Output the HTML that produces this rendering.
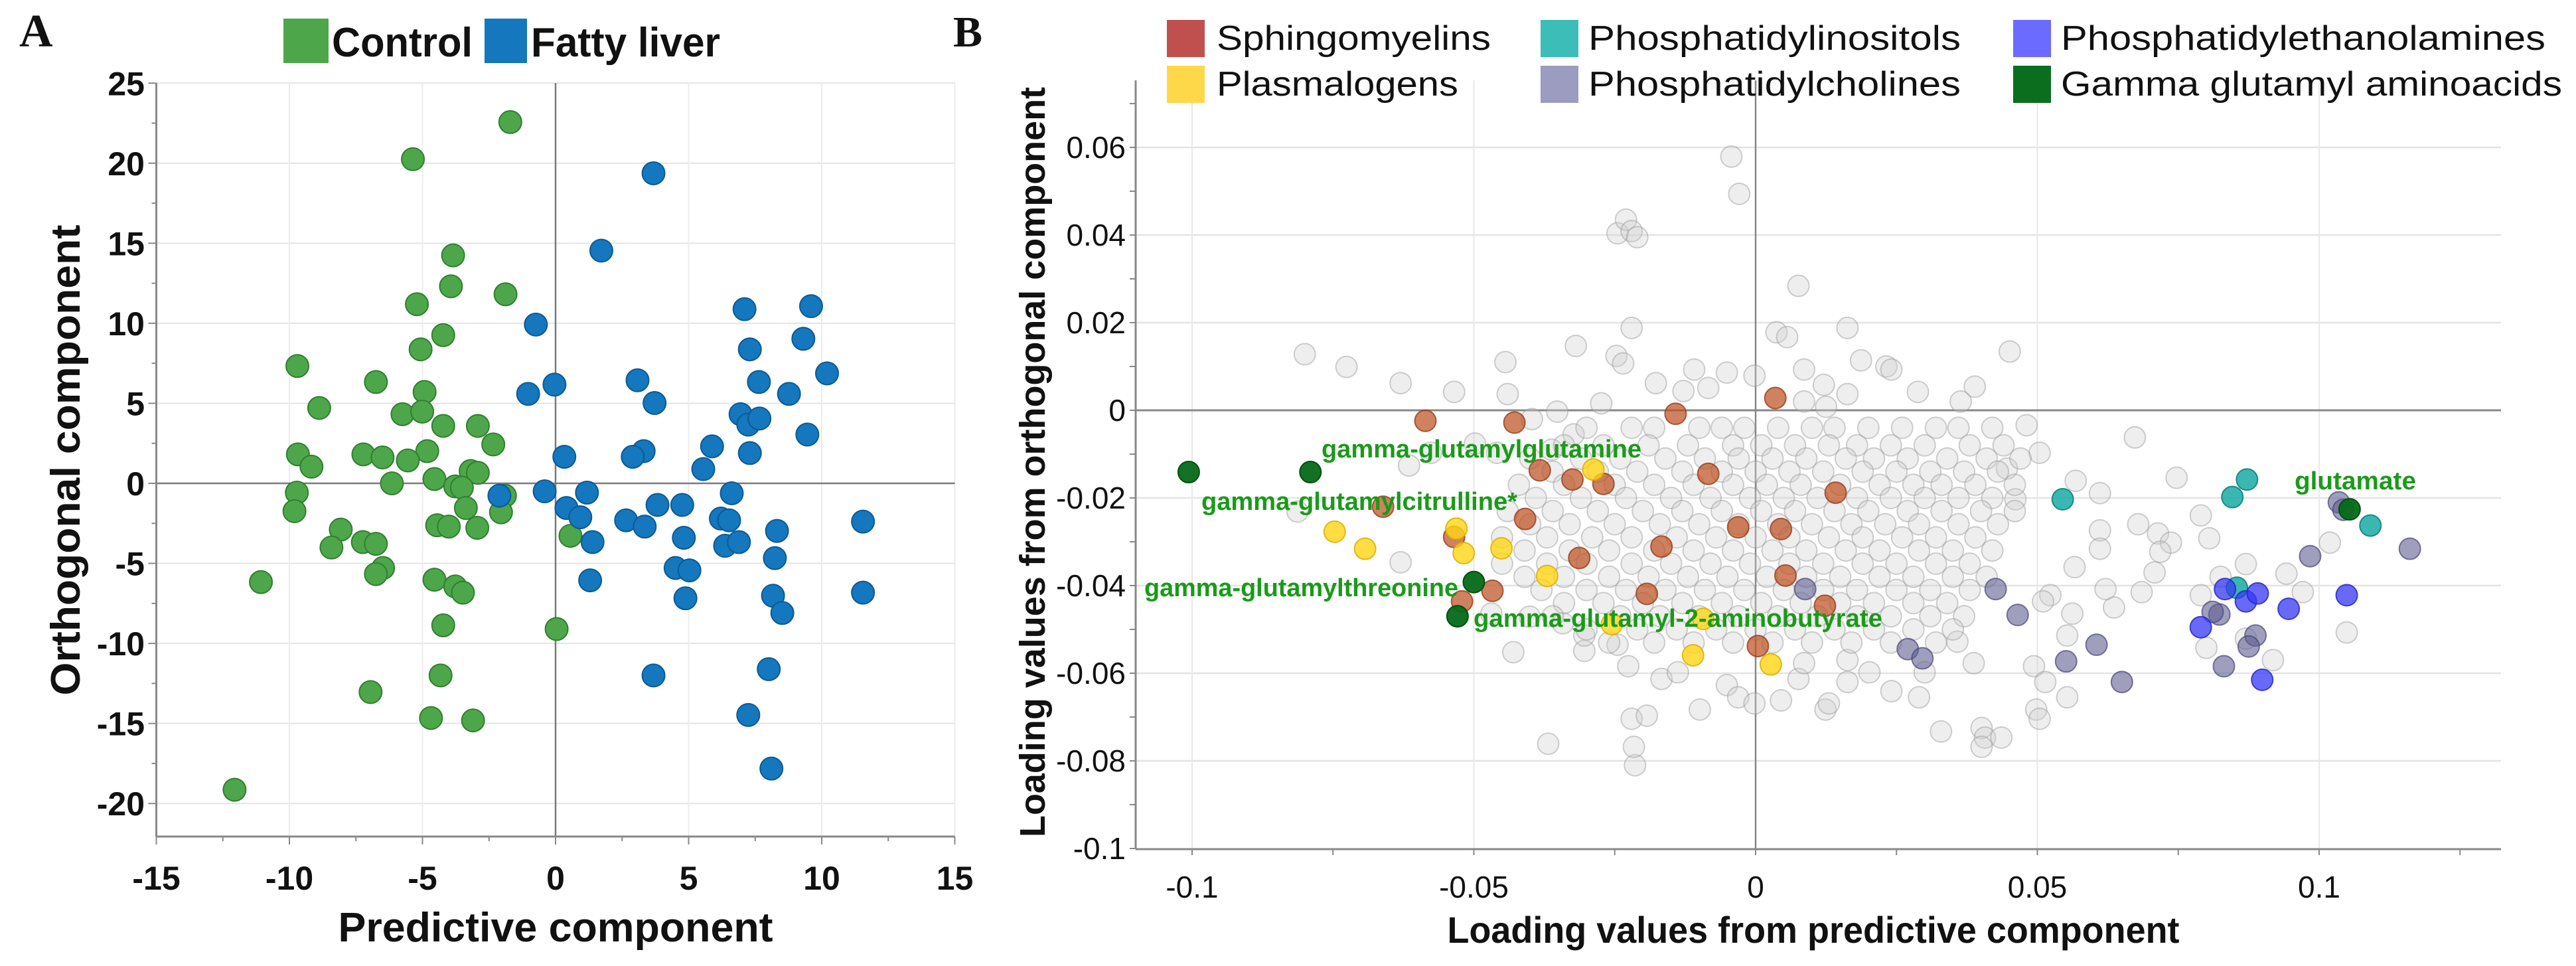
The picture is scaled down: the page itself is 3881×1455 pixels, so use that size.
<!DOCTYPE html>
<html><head><meta charset="utf-8"><style>
html,body{margin:0;padding:0;background:#fff;}
svg{display:block;font-family:"Liberation Sans",sans-serif;}
</style></head><body>
<svg id="fig" width="3881" height="1455" viewBox="0 0 3881 1455" xmlns="http://www.w3.org/2000/svg">
<rect x="0" y="0" width="3881" height="1455" fill="#fff"/>
<g id="panelA"></g>
<g id="panelB"></g>
</svg>
<script>
// ---------- Panel A data ----------
const aXTicks = [-15,-10,-5,0,5,10,15];
const aYTicks = [-20,-15,-10,-5,0,5,10,15,20,25];
const controlX = [-1.70,-5.36,-3.85,-3.93,-1.88,-5.21,-5.07,-4.22,-9.70,-6.75,-8.88,-4.92,-5.75,-5.01,-4.22,-2.92,-2.34,-4.82,-9.68,-9.17,-7.22,-6.50,-5.55,-3.19,-2.92,-6.15,-4.55,-3.77,-3.52,-1.90,-9.72,-9.81,-3.37,-2.05,-8.07,-4.45,-4.01,-2.94,-8.42,-7.24,-6.75,0.56,-6.48,-6.75,-11.07,-4.55,-3.77,-3.48,0.04,-4.22,-4.32,-6.95,-4.68,-3.10,-12.06];
const controlY = [22.57,20.25,14.24,12.31,11.81,11.19,8.37,9.26,7.33,6.33,4.71,5.71,4.32,4.48,3.59,3.59,2.43,2.01,1.81,1.04,1.81,1.62,1.43,0.77,0.66,0,0.27,-0.19,-0.27,-0.77,-0.58,-1.74,-1.54,-1.81,-2.89,-2.62,-2.70,-2.78,-4.01,-3.67,-3.78,-3.28,-5.29,-5.67,-6.17,-6.02,-6.44,-6.83,-9.10,-8.87,-12.00,-13.04,-14.66,-14.81,-19.14];
const fattyX = [3.68,1.72,-0.74,7.10,9.60,9.31,7.30,10.20,3.08,7.64,-1.03,-0.04,3.72,8.77,6.95,7.24,7.66,9.46,5.88,3.31,2.90,0.33,7.30,5.55,-2.11,-0.41,1.18,0.41,0.93,3.83,4.76,6.62,2.65,3.35,6.21,6.52,8.32,11.55,1.39,4.82,6.37,6.89,8.24,4.51,5.03,1.30,4.88,8.17,8.52,11.55,3.68,8.01,7.24,8.11];
const fattyY = [19.37,14.54,9.92,10.88,11.07,9.03,8.37,6.87,6.44,6.33,5.59,6.17,5.02,5.59,4.32,3.67,4.05,3.05,2.31,2.01,1.66,1.66,1.89,0.89,-0.77,-0.50,-0.58,-1.54,-2.12,-1.35,-1.35,-0.62,-2.31,-2.70,-2.20,-2.31,-2.97,-2.39,-3.67,-3.40,-3.90,-3.67,-4.67,-5.29,-5.44,-6.06,-7.18,-7.02,-8.10,-6.83,-12.00,-11.61,-14.47,-17.82];

// ---------- Panel B data ----------
const bXTicks = [-0.1,-0.05,0,0.05,0.1];
const bXTickLabels = ["-0.1","-0.05","0","0.05","0.1"];
const bYTicks = [0.06,0.04,0.02,0,-0.02,-0.04,-0.06,-0.08,-0.1];
const bYTickLabels = ["0.06","0.04","0.02","0","-0.02","-0.04","-0.06","-0.08","-0.1"];
const grayX = [-0.0043,-0.0029,-0.0245,-0.0230,-0.0220,-0.0210,0.0076,-0.0220,0.0037,0.0056,0.0163,-0.0319,-0.0800,-0.0726,-0.0444,-0.0247,-0.0235,-0.0109,-0.0051,-0.0002,0.0086,0.0187,0.0232,0.0241,0.0451,0.0288,0.0389,-0.0630,-0.0535,-0.0440,-0.0177,-0.0128,-0.0084,0.0121,0.0163,0.0364,-0.0274,-0.0352,-0.0397,0.0086,0.0125,
0.0673,0.0481,0.0504,0.0446,0.0568,0.0611,0.0461,0.0747,0.0790,0.0805,0.0611,0.0611,0.0566,0.0679,0.0714,0.0737,0.0718,0.0708,0.0685,0.0636,0.0621,0.0562,0.0523,0.0510,0.0870,0.0825,0.0790,0.0800,0.0918,0.0942,0.0971,0.1019,0.1049,0.0870,0.0553,0.0494,0.0514,0.0553,0.0498,0.0504,0.0401,0.0407,0.0436,0.0329,0.0401,0.0290,0.0241,0.0300,0.0387,0.0358,
-0.0368,-0.0214,-0.0216,-0.0220,-0.0193,-0.0099,-0.0430,-0.0304,-0.0245,-0.0226,-0.0167,-0.0138,-0.0051,-0.0031,-0.0002,0.0045,0.0124,0.0130,0.0076,0.0163,0.0202,0.0163,0.0086,-0.0342,-0.0304,-0.0401,-0.0469,-0.0630,-0.0813,-0.0615,-0.0576,-0.0498,-0.0459,-0.0362,-0.0323];
const grayY = [0.0579,0.0494,0.0404,0.0435,0.0409,0.0395,0.0284,0.0188,0.0178,0.0167,0.0188,0.0147,0.0128,0.0099,0.0110,0.0124,0.0107,0.0093,0.0086,0.0079,0.0093,0.0114,0.0100,0.0093,0.0134,0.0042,0.0054,0.0062,0.0042,0.0037,0.0062,0.0044,0.0051,0.0058,0.0037,0.0020,0.0016,-0.0003,-0.0020,0.0020,0.0008,
-0.0062,-0.0034,-0.0097,-0.0133,-0.0161,-0.0189,-0.0203,-0.0154,-0.0240,-0.0292,-0.0274,-0.0316,-0.0358,-0.0260,-0.0281,-0.0302,-0.0323,-0.0370,-0.0415,-0.0450,-0.0408,-0.0464,-0.0422,-0.0436,-0.0351,-0.0380,-0.0422,-0.0542,-0.0570,-0.0373,-0.0415,-0.0302,-0.0507,-0.0521,-0.0514,-0.0584,-0.0620,-0.0655,-0.0683,-0.0704,-0.0725,-0.0747,-0.0747,-0.0733,-0.0768,-0.0655,-0.0641,-0.0598,-0.0577,-0.0528,
-0.0761,-0.0810,-0.0768,-0.0704,-0.0697,-0.0683,-0.0552,-0.0549,-0.0535,-0.0584,-0.0613,-0.0598,-0.0627,-0.0655,-0.0669,-0.0662,-0.0683,-0.0669,-0.0613,-0.0620,-0.0598,-0.0570,-0.0577,-0.0486,-0.0514,-0.0471,-0.0464,-0.0347,-0.0231,-0.0126,-0.0097,-0.0076,-0.0097,-0.0090,-0.0055];
// dense central cloud, row by row: [y, [x...]]
const grayCloudRows = [
 [-0.004,[-0.030,-0.022,-0.018,-0.010,-0.006,-0.002,0.004,0.010,0.014,0.020,0.026,0.032,0.036,0.042]],
 [-0.008,[-0.034,-0.027,-0.019,-0.012,-0.004,0.001,0.007,0.013,0.018,0.024,0.030,0.038,0.044]],
 [-0.011,[-0.040,-0.031,-0.024,-0.016,-0.009,-0.003,0.003,0.009,0.016,0.021,0.027,0.034,0.041,0.047]],
 [-0.014,[-0.036,-0.028,-0.021,-0.013,-0.006,0.000,0.006,0.012,0.019,0.025,0.031,0.037,0.043]],
 [-0.017,[-0.042,-0.034,-0.025,-0.018,-0.011,-0.004,0.002,0.008,0.015,0.022,0.028,0.033,0.039,0.046]],
 [-0.020,[-0.039,-0.031,-0.023,-0.015,-0.008,-0.001,0.005,0.011,0.018,0.024,0.030,0.036,0.042]],
 [-0.023,[-0.044,-0.036,-0.028,-0.020,-0.013,-0.006,0.001,0.007,0.014,0.020,0.027,0.033,0.040,0.046]],
 [-0.026,[-0.040,-0.033,-0.025,-0.017,-0.010,-0.003,0.004,0.010,0.017,0.023,0.029,0.036,0.043]],
 [-0.029,[-0.045,-0.037,-0.029,-0.022,-0.014,-0.007,0.000,0.006,0.013,0.019,0.026,0.032,0.039]],
 [-0.032,[-0.041,-0.033,-0.026,-0.018,-0.011,-0.004,0.003,0.009,0.016,0.022,0.029,0.035,0.042]],
 [-0.035,[-0.045,-0.037,-0.030,-0.022,-0.015,-0.008,-0.001,0.006,0.012,0.019,0.025,0.032,0.038]],
 [-0.038,[-0.041,-0.034,-0.026,-0.019,-0.012,-0.005,0.002,0.009,0.015,0.022,0.028,0.035,0.041]],
 [-0.041,[-0.038,-0.030,-0.023,-0.016,-0.009,-0.002,0.005,0.012,0.018,0.025,0.031,0.038]],
 [-0.044,[-0.034,-0.027,-0.020,-0.013,-0.006,0.001,0.008,0.015,0.021,0.028,0.034]],
 [-0.047,[-0.036,-0.024,-0.017,-0.010,-0.003,0.004,0.011,0.018,0.024,0.031,0.037]],
 [-0.050,[-0.030,-0.021,-0.014,-0.007,0.000,0.007,0.014,0.021,0.028,0.035]],
 [-0.053,[-0.026,-0.018,-0.011,-0.004,0.003,0.010,0.017,0.024,0.032]]
];
const sphX = [-0.0586,-0.0428,-0.0142,0.0035,-0.0383,-0.0325,-0.0270,-0.0084,0.0142,-0.0661,-0.0409,-0.0031,0.0045,-0.0535,-0.0167,-0.0313,0.0053,-0.0521,-0.0467,-0.0193,0.0123,0.0004];
const sphY = [-0.0024,-0.0028,-0.0008,0.0028,-0.0137,-0.0158,-0.0168,-0.0145,-0.0188,-0.0220,-0.0248,-0.0267,-0.0271,-0.0289,-0.0311,-0.0337,-0.0377,-0.0436,-0.0412,-0.0419,-0.0446,-0.0538];
const plasX = [-0.0288,-0.0747,-0.0693,-0.0531,-0.0518,-0.0451,-0.0370,-0.0255,-0.0093,-0.0111,0.0027];
const plasY = [-0.0135,-0.0277,-0.0316,-0.0270,-0.0326,-0.0315,-0.0378,-0.0488,-0.0476,-0.0559,-0.0580];
const piX = [0.0545,0.0872,0.0846,0.1091,0.0854];
const piY = [-0.0203,-0.0158,-0.0198,-0.0263,-0.0405];
const pcX = [0.0088,0.0426,0.0465,0.0270,0.0296,0.0551,0.0605,0.0650,0.0823,0.0831,0.0887,0.0875,0.0984,0.1035,0.1043,0.1161,0.0811];
const pcY = [-0.0408,-0.0408,-0.0467,-0.0545,-0.0566,-0.0573,-0.0535,-0.0620,-0.0466,-0.0584,-0.0514,-0.0539,-0.0333,-0.0210,-0.0227,-0.0316,-0.0460];
const peX = [0.0833,0.0870,0.0891,0.0946,0.0790,0.0899,0.1049];
const peY = [-0.0408,-0.0436,-0.0418,-0.0453,-0.0495,-0.0615,-0.0422];
const ggX = [-0.1006,-0.0790,-0.0500,-0.0529,0.1054];
const ggY = [-0.0141,-0.0141,-0.0392,-0.0470,-0.0226];
const ggNames = ["","gamma-glutamylglutamine","gamma-glutamylthreonine","gamma-glutamyl-2-aminobutyrate","glutamate"];

const NS = "http://www.w3.org/2000/svg";
function mk(parent, tag, attrs, text){
  const e = document.createElementNS(NS, tag);
  for (const k in attrs) e.setAttribute(k, attrs[k]);
  if (text !== undefined) e.textContent = text;
  parent.appendChild(e);
  return e;
}

// ================= PANEL A =================
const A = document.getElementById('panelA');
const ax = v => 837 + v * 40.1;
const ay = v => 728 - v * 24.11;
const aL = ax(-15), aR = ax(15), aT = 125, aB = 1260;
// grid
aYTicks.forEach(t => {
  const l = mk(A,'line',{x1:aL,x2:aR,y1:ay(t),y2:ay(t),stroke:'#e4e4e4','stroke-width':2});
  
  
});
aXTicks.forEach(t => {
  if (t===-15) return;
  const l = mk(A,'line',{x1:ax(t),x2:ax(t),y1:aT,y2:aB,stroke:'#ececec','stroke-width':2});
  
  
});
// zero lines
{
  const z1 = mk(A,'line',{x1:aL,x2:aR,y1:ay(0),y2:ay(0),stroke:'#7a7a7a','stroke-width':2.5});
  
  
  const z2 = mk(A,'line',{x1:ax(0),x2:ax(0),y1:aT,y2:aB,stroke:'#7a7a7a','stroke-width':2.5});
  
  
}
// axes
{
  const xa = mk(A,'line',{x1:aL,x2:aR,y1:aB,y2:aB,stroke:'#888','stroke-width':3});
  
  
  const ya = mk(A,'line',{x1:aL,x2:aL,y1:aT,y2:aB,stroke:'#888','stroke-width':3});
  
  
}
for (let v=-15; v<=15; v+=2.5){
  const big = Math.abs(v%5)<1e-9;
  const t = mk(A,'line',{x1:ax(v),x2:ax(v),y1:aB,y2:aB+(big?12:7),stroke:'#888','stroke-width':2});
  
  
}
for (let v=-20; v<=25; v+=2.5){
  const big = Math.abs(v%5)<1e-9;
  const t = mk(A,'line',{x1:aL-(big?12:7),x2:aL,y1:ay(v),y2:ay(v),stroke:'#888','stroke-width':2});
  
  
}
aXTicks.forEach(t => {
  const e = mk(A,'text',{x:ax(t),y:1340,'text-anchor':'middle','font-size':50,'font-weight':'bold',fill:'#111'}, String(t));
  
  
});
aYTicks.forEach(t => {
  const e = mk(A,'text',{x:218,y:ay(t)+18,'text-anchor':'end','font-size':50,'font-weight':'bold',fill:'#111'}, String(t));
  
  
});
// points
controlX.forEach((x,i) => {
  const c = mk(A,'circle',{cx:ax(x),cy:ay(controlY[i]),r:17,fill:'#4ea64a',stroke:'#2f7f2f','stroke-width':2});
  
  
});
fattyX.forEach((x,i) => {
  const c = mk(A,'circle',{cx:ax(x),cy:ay(fattyY[i]),r:17,fill:'#1577bd',stroke:'#0b5a93','stroke-width':2});
  
  
});

// ================= PANEL B =================
const B = document.getElementById('panelB');
const bx = v => 2645 + v * 8490;
const by = v => 618 - v * 6600;
const bL = 1711, bR = 3768, bT = 121, bB = 1279;
bYTicks.forEach(t => {
  if (t===-0.1) return;
  const l = mk(B,'line',{x1:bL,x2:bR,y1:by(t),y2:by(t),stroke:'#e4e4e4','stroke-width':2.5});
  
  
});
bXTicks.forEach(t => {
  const l = mk(B,'line',{x1:bx(t),x2:bx(t),y1:bT,y2:bB,stroke:'#e8e8e8','stroke-width':2});
  
  
});
{
  const z1 = mk(B,'line',{x1:bL,x2:bR,y1:by(0),y2:by(0),stroke:'#888','stroke-width':3});
  
  
  const z2 = mk(B,'line',{x1:bx(0),x2:bx(0),y1:bT,y2:bB,stroke:'#888','stroke-width':2.5});
  
  
  const xa = mk(B,'line',{x1:bL,x2:bR,y1:bB,y2:bB,stroke:'#888','stroke-width':3});
  
  
  const ya = mk(B,'line',{x1:bL,x2:bL,y1:bT,y2:bB,stroke:'#888','stroke-width':3});
  
  
}
for (let v=-0.1; v<=0.126; v+=0.025){
  const t = mk(B,'line',{x1:bx(v),x2:bx(v),y1:bB,y2:bB+9,stroke:'#888','stroke-width':2});
  
  
}
for (let v=-0.1; v<=0.071; v+=0.01){
  const t = mk(B,'line',{x1:bL-9,x2:bL,y1:by(v),y2:by(v),stroke:'#888','stroke-width':2});
  
  
}
bXTicks.forEach((t,i) => {
  const e = mk(B,'text',{x:bx(t),y:1352,'text-anchor':'middle','font-size':46,fill:'#111'}, bXTickLabels[i]);
  
  
});
bYTicks.forEach((t,i) => {
  const e = mk(B,'text',{x:1696,y:by(t)+16,'text-anchor':'end','font-size':46,fill:'#111'}, bYTickLabels[i]);
  
  
});
// gray points
function gray(x,y){
  const c = mk(B,'circle',{cx:bx(x),cy:by(y),r:16,fill:'rgba(205,205,205,0.35)',stroke:'rgba(150,150,150,0.45)','stroke-width':2});
  
  
}
grayX.forEach((x,i) => gray(x, grayY[i]));
grayCloudRows.forEach(row => row[1].forEach(x => gray(x, row[0])));
function series(xs, ys, fill, stroke, name){
  xs.forEach((x,i) => {
    const c = mk(B,'circle',{cx:bx(x),cy:by(ys[i]),r:16,fill:fill,stroke:stroke,'stroke-width':2});
    
    
  });
}
series(sphX, sphY, 'rgba(190,80,35,0.72)', 'rgba(150,60,25,0.8)', 'sphingomyelin-point');
series(plasX, plasY, 'rgba(255,212,20,0.8)', 'rgba(220,175,0,0.85)', 'plasmalogen-point');
series(pcX, pcY, 'rgba(95,95,145,0.6)', 'rgba(70,70,120,0.7)', 'phosphatidylcholine-point');
series(piX, piY, 'rgba(25,170,165,0.85)', 'rgba(15,130,125,0.9)', 'phosphatidylinositol-point');
series(peX, peY, 'rgba(55,55,245,0.75)', 'rgba(40,40,200,0.85)', 'phosphatidylethanolamine-point');
series(ggX, ggY, 'rgba(5,105,25,0.95)', 'rgba(0,80,15,1)', 'gamma-glutamyl-point');

// annotations
const annos = [
  ["gamma-glutamylglutamine",1991,689,482],
  ["gamma-glutamylcitrulline*",1810,768,476],
  ["gamma-glutamylthreonine",1724,898,473],
  ["gamma-glutamyl-2-aminobutyrate",2220,944,616],
  ["glutamate",3457,737,183]
];
annos.forEach(a => {
  const e = mk(B,'text',{x:a[1],y:a[2],'font-size':38,'font-weight':'bold',fill:'#1a9a1a',textLength:a[3],lengthAdjust:'spacingAndGlyphs'}, a[0]);
  
  
});

// ---- titles, legends, panel letters ----
const S = document.getElementById('fig');
function txt(attrs, s, name){
  const e = mk(S,'text',attrs,s);
  
  
  return e;
}
txt({x:29,y:70,'font-size':70,'font-weight':'bold','font-family':'"Liberation Serif",serif',fill:'#111'},'A','panel-a-letter');
txt({x:1436,y:70,'font-size':66,'font-weight':'bold','font-family':'"Liberation Serif",serif',fill:'#111'},'B','panel-b-letter');
txt({x:837,y:1418,'text-anchor':'middle','font-size':62,'font-weight':'bold',fill:'#111',textLength:655,lengthAdjust:'spacingAndGlyphs'},'Predictive component','a-x-axis-title');
txt({x:0,y:0,transform:'translate(120,693) rotate(-90)','text-anchor':'middle','font-size':62,'font-weight':'bold',fill:'#111',textLength:709,lengthAdjust:'spacingAndGlyphs'},'Orthogonal component','a-y-axis-title');
txt({x:2732,y:1420,'text-anchor':'middle','font-size':56,'font-weight':'bold',fill:'#111',textLength:1103,lengthAdjust:'spacingAndGlyphs'},'Loading values from predictive component','b-x-axis-title');
txt({x:0,y:0,transform:'translate(1574,696) rotate(-90)','text-anchor':'middle','font-size':54,'font-weight':'bold',fill:'#111',textLength:1130,lengthAdjust:'spacingAndGlyphs'},'Loading values from orthogonal component','b-y-axis-title');

function legendEntry(x,y,w,h,color,label,tx,ty,tl,fs,name){
  const r = mk(S,'rect',{x:x,y:y,width:w,height:h,fill:color});
  
  
  const t = mk(S,'text',{x:tx,y:ty,'font-size':fs,'font-weight':fs>56?'bold':'normal',fill:'#111',textLength:tl,lengthAdjust:'spacingAndGlyphs'},label);
  
  
}
legendEntry(427,28,68,67,'#4ea64a','Control',500,85,212,62,'legend-control');
legendEntry(730,28,64,67,'#1577bd','Fatty liver',800,85,285,62,'legend-fatty-liver');
legendEntry(1758,30,57,56,'#c0504d','Sphingomyelins',1833,75,413,52,'legend-sphingomyelins');
legendEntry(1758,99,57,56,'#ffd84a','Plasmalogens',1833,144,364,52,'legend-plasmalogens');
legendEntry(2321,30,57,56,'#3cbdb8','Phosphatidylinositols',2393,75,561,52,'legend-phosphatidylinositols');
legendEntry(2321,99,57,56,'#9c9cc0','Phosphatidylcholines',2393,144,561,52,'legend-phosphatidylcholines');
legendEntry(3033,30,57,56,'#6b6bff','Phosphatidylethanolamines',3105,75,730,52,'legend-phosphatidylethanolamines');
legendEntry(3033,99,57,56,'#0a6e1e','Gamma glutamyl aminoacids',3105,144,755,52,'legend-gamma-glutamyl');
</script>
</body></html>
